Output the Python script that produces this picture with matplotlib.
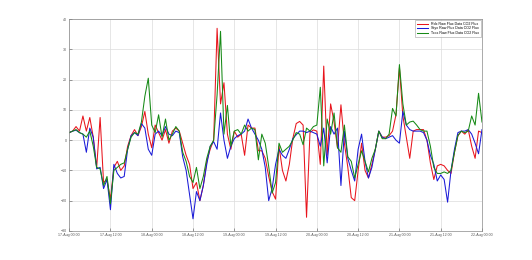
import numpy as np
import pandas as pd
import matplotlib
matplotlib.use('Agg')
import matplotlib.pyplot as plt
import matplotlib.dates as mdates

# hourly CO2 flux, 17 Aug 00:00 -> 22 Aug 00:00
START = '2012-08-17 00:00'
LABELS = ['Rdx Raw Flux Data CO2 Flux', 'Styx Raw Flux Data CO2 Flux', 'Tcos Raw Flux Data CO2 Flux']

red_flux = [2.5, 3, 4.5, 3, 8, 3, 7.5, 1, -9, 7.5,
            -14, -13, -19.5, -9, -7, -10, -8.5, -2, 1.5, 3.5,
            1.5, 4.5, 9.5, 2, -2.5, 5, 2.5, 0, 3.5, -1,
            3, 4, 3, -1, -5, -8, -16, -14, -20, -15,
            -7, -3, 0, 37, 12, 19, 2, -3, 3, 1,
            2, -5, 5, 4, 4, -3.5, -3.5, -6, -12, -17,
            -19.5, -2, -10, -13.5, -8, 0.5, 5.5, 6.2, 5, -25.5,
            2.5, 3.4, 3, -8, 24.5, -5, 12, 6, -2.6, 11.7,
            -1, -9, -19, -20, -10, -1, -10, -12.5, -8, -3,
            3, 1, 1, 1.5, 3, 8.4, 24, 8, 1, -6,
            3, 3.5, 3.5, 3.5, 0, -7.5, -13, -8.5, -8, -8.5,
            -10, -11, -4, 1.5, 3, 2, 3.5, -2, -6, 3,
            2.5]

blue_flux = [2.5, 3, 3.3, 2.5, 2, -4, 4, 1, -9.5, -9,
             -16, -13, -23, -8, -11, -12.5, -12, -3, 1.5, 2.5,
             1.5, 5.5, 4, -3, -5, 2, 3, 1.5, 4.5, 2,
             1.5, 3, 2.5, -5.5, -10, -18, -26, -17, -20, -15,
             -8, -2, -0.5, -3, 9, 0, -6, -2, 0.5, 1.5,
             2, 3, 7, 4, 2, 0, -3, -9, -20, -16,
             -8, -3, -5, -6, -3, 0.5, 1.8, 3, 3, 2.5,
             3, 2.5, 2, -2, 4, -7.5, 4.5, 2, 4, -15,
             3, -6, -10, -13.5, -3, 2, -7, -12.5, -9, -3,
             3, 1, 0.5, 1, 1.5, 0, -1, 9.5, 5, 3.5,
             3, 3, 3, 2.5, 0, -5, -8, -13.5, -11.5, -13,
             -20.5, -10, -3, 2.5, 3, 3, 3.5, 2, -1, -4.5,
             3.5]

green_flux = [2.5, 3, 3.5, 2.5, 2, 1, 3, -2, -9, -9.5,
              -15, -12, -21, -10, -9, -8, -7.5, -3, 1, 2.5,
              2, 6, 14.5, 20.5, 5, 2.5, 8.4, 1, 7, 0,
              2, 4.5, 3, -4, -7, -12, -14, -9, -16, -12,
              -6, -2, 0, 15, 36, 2, 11.5, -2, 3, 3.5,
              2, 5, 3, 4, 3.5, -6.5, 2, -1, -8.7, -17.5,
              -14, -1, -4, -3, -2, 0, 2.5, 2, -1.5, 4,
              3, 4.5, 5, 17.5, -8.5, 7, 2, 9, -2.5, -4,
              5, -5.5, -7, -12.5, -8, -3.5, -7, -10.5, -6, -3,
              3, 0.5, 0.5, 2, 10.5, 8, 25, 12, 5, 6,
              6.3, 5, 3.5, 3, 3, -2, -9, -11, -11, -10.5,
              -11, -10, -4, 1.5, 3, 2.5, 3, 8, 5, 15.5,
              6]

times = pd.date_range(START, periods=len(red_flux), freq='1h')

plt.rcParams['font.family'] = ['Liberation Sans', 'DejaVu Sans']
fig = plt.figure(figsize=(5.32, 2.6), dpi=100)
ax = fig.add_axes([0.130, 0.112, 0.776, 0.814])

ax.plot(times, red_flux, color='#e8141c', lw=0.75, label=LABELS[0])
ax.plot(times, blue_flux, color='#1a1ad8', lw=0.75, label=LABELS[1])
ax.plot(times, green_flux, color='#168a16', lw=0.75, label=LABELS[2])

ax.set_xlim(times[0], times[-1])
ax.set_ylim(-30, 40)
ax.set_yticks(np.arange(-30, 41, 10))
ax.xaxis.set_major_locator(mdates.HourLocator(byhour=[0, 12]))
ax.xaxis.set_major_formatter(mdates.DateFormatter('%d-%b %H:%M'))

ax.grid(True, color='#dcdcdc', lw=0.5)
ax.set_axisbelow(True)
ax.tick_params(direction='in', length=2, width=0.4, labelsize=2.6, pad=1.5, colors='#555555')
for sp in ax.spines.values():
    sp.set_linewidth(0.5)
    sp.set_color('#888888')

leg = ax.legend(loc='upper right', fontsize=2.6, handlelength=3.2, frameon=True,
                fancybox=False, borderpad=0.4, labelspacing=0.2, borderaxespad=0.3)
leg.get_frame().set_linewidth(0.4)
leg.get_frame().set_edgecolor('#888888')

fig.savefig('out.png', dpi=100)
